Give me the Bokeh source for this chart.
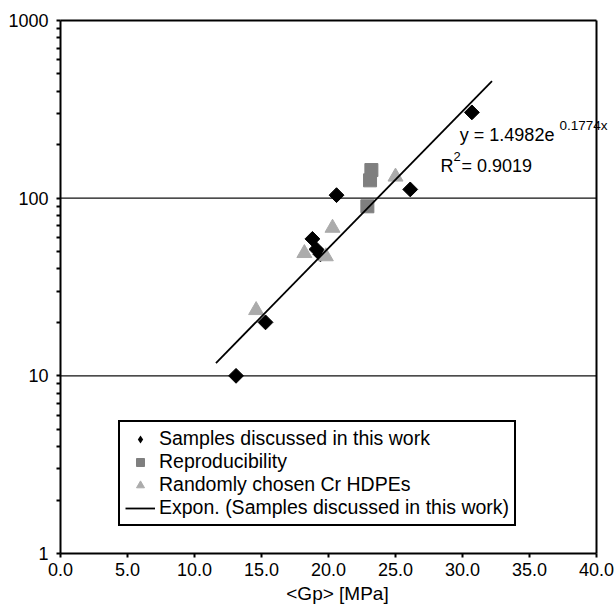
import math
from bokeh.plotting import figure
from bokeh.models import FixedTicker, Label, Legend, LegendItem, Range1d
from bokeh.embed import file_html
from bokeh.resources import INLINE

# ---------------- data ----------------
samples_x = [13.1, 15.3, 18.8, 19.1, 19.4, 20.6, 26.1, 30.7]
samples_y = [10.0, 20.0, 59.0, 51.5, 48.3, 104.0, 112.0, 304.0]

repro_x = [22.9, 23.2, 23.1]
repro_y = [90.0, 144.0, 126.0]

random_x = [14.6, 18.2, 19.8, 20.3, 25.0]
random_y = [23.4, 49.0, 47.0, 68.0, 132.0]

trend_x = [11.6, 32.2]
trend_y = [11.8, 456.0]

x_ticks = [0, 5, 10, 15, 20, 25, 30, 35, 40]
x_tick_labels = ["0.0", "5.0", "10.0", "15.0", "20.0", "25.0", "30.0", "35.0", "40.0"]
y_ticks = [1, 10, 100, 1000]
y_tick_labels = ["1", "10", "100", "1000"]

series_names = ["Samples discussed in this work", "Reproducibility",
                "Randomly chosen Cr HDPEs",
                "Expon. (Samples discussed in this work)"]
x_title = "<Gp> [MPa]"
eq_text = "y = 1.4982e"
eq_exp = "0.1774x"
r2_text = "= 0.9019"

FONT = "Liberation Sans"

# frame is extended to the right edge of the canvas so that the exponent
# text may run past the right border, as in the original
X_MIN, X_MAX = x_ticks[0], x_ticks[-1]
Y_MIN, Y_MAX = y_ticks[0], y_ticks[-1]
x_end = X_MAX + 18 / 13.4
y_end = Y_MAX * 10 ** (1 / 177.3)

p = figure(width=614, height=609, y_axis_type="log",
           x_range=Range1d(X_MIN, x_end), y_range=Range1d(Y_MIN, y_end),
           output_backend="svg", toolbar_location=None,
           min_border_left=60, min_border_right=0,
           min_border_top=19, min_border_bottom=56)
p.background_fill_color = "white"
p.border_fill_color = "white"
p.outline_line_color = None

# axes
p.xaxis.ticker = FixedTicker(ticks=x_ticks)
p.xaxis.major_label_overrides = {t: l for t, l in zip(x_ticks, x_tick_labels)}
p.xaxis.bounds = (X_MIN, X_MAX)
minor = [m * 10 ** d for d in range(0, 3) for m in range(2, 10)]
p.yaxis.ticker = FixedTicker(ticks=y_ticks, minor_ticks=minor)
p.yaxis.major_label_overrides = {t: l for t, l in zip(y_ticks, y_tick_labels)}
p.yaxis.bounds = (Y_MIN, Y_MAX)

for ax in (p.xaxis[0], p.yaxis[0]):
    ax.axis_line_color = "black"
    ax.axis_line_width = 2
    ax.major_tick_line_color = "black"
    ax.major_tick_line_width = 2
    ax.minor_tick_line_color = "black"
    ax.minor_tick_line_width = 2
    ax.major_tick_in = 0
    ax.minor_tick_in = 0
    ax.major_label_text_font = FONT
    ax.major_label_text_font_size = "18px"
    ax.major_label_text_color = "black"
    ax.axis_label_text_font = FONT
    ax.axis_label_text_font_size = "19px"
    ax.axis_label_text_font_style = "normal"
    ax.axis_label_text_color = "black"

p.xaxis.major_tick_out = 4
p.xaxis.minor_tick_out = 0
p.xaxis.major_label_standoff = 5
p.xaxis.axis_label = x_title
p.xaxis.axis_label_standoff = 4
p.yaxis.major_tick_out = 4
p.yaxis.minor_tick_out = 4
p.yaxis.major_label_standoff = 8

p.grid.visible = False

# horizontal grid lines (major decades inside the box)
grid_levels = y_ticks[1:-1]
p.segment(x0=[X_MIN] * len(grid_levels), x1=[X_MAX] * len(grid_levels),
          y0=grid_levels, y1=grid_levels, line_color="#111111", line_width=1.3)

# glyphs
r_samp_leg = p.scatter(samples_x, samples_y, marker="diamond", size=14,
                       fill_color="black", line_color=None)
r_samp = p.scatter(samples_x, samples_y, marker="square", angle=math.pi / 4,
                   size=10.5, fill_color="black", line_color="black")
r_rep = p.scatter(repro_x, repro_y, marker="square", size=13,
                  fill_color="#7f7f7f", line_color="#7f7f7f")
r_rand = p.scatter(random_x, random_y, marker="triangle", size=15,
                   fill_color="#ababab", line_color="#ababab")
r_trend = p.line(trend_x, trend_y, line_color="black", line_width=1.8)

# equation text
def lab(x, y, text, size):
    p.add_layout(Label(x=x, y=y, text=text, text_font=FONT,
                       text_font_size=size, text_color="black",
                       text_baseline="alphabetic", text_align="left"))

lab(29.8, 226, eq_text, "18px")
lab(37.24, 258, eq_exp, "13.5px")
lab(28.36, 151, "R", "18px")
lab(29.33, 172, "2", "13px")
lab(29.93, 151, r2_text, "18px")

# box border (top and right) drawn over the text, as in the original
p.segment(x0=[X_MIN, X_MAX], x1=[X_MAX, X_MAX], y0=[Y_MAX, Y_MIN],
          y1=[Y_MAX, Y_MAX], line_color="black", line_width=2, level="overlay")

legend = Legend(items=[
    LegendItem(label=series_names[0], renderers=[r_samp_leg]),
    LegendItem(label=series_names[1], renderers=[r_rep]),
    LegendItem(label=series_names[2], renderers=[r_rand]),
    LegendItem(label=series_names[3], renderers=[r_trend]),
], location=(58, 27))
legend.label_text_font = FONT
legend.label_text_font_size = "19.5px"
legend.label_text_color = "black"
legend.glyph_width = 30
legend.glyph_height = 20
legend.label_height = 18
legend.label_standoff = 4
legend.spacing = 0
legend.padding = 5
legend.margin = 0
legend.border_line_color = "black"
legend.border_line_alpha = 1.0
legend.border_line_width = 2
legend.background_fill_color = "white"
legend.background_fill_alpha = 1
p.add_layout(legend)

open("out.html", "w").write(file_html(p, INLINE))
